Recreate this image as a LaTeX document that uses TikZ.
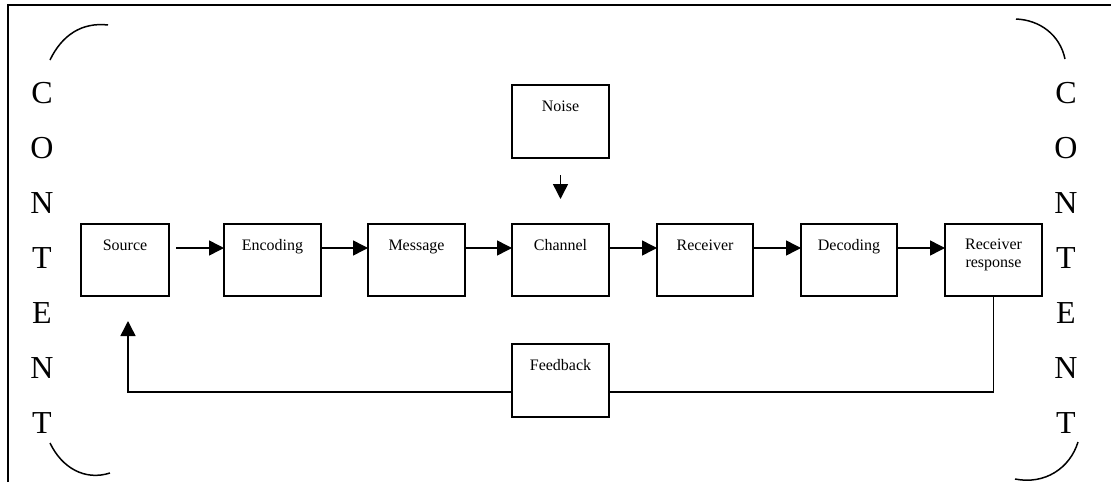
\documentclass[tikz,border=0pt]{standalone}
\usepackage{fontspec}
\setmainfont{Liberation Serif}
\usetikzlibrary{arrows.meta}
\begin{document}
\begin{tikzpicture}[x=1pt,y=-1pt,
  blk/.style={draw,line width=1.8pt,rectangle,inner sep=0pt,outer sep=0pt,
              minimum width=97pt,minimum height=72pt},
  lbl/.style={anchor=base,inner sep=0pt,font=\fontsize{16}{18}\selectfont,align=center},
  big/.style={inner sep=0pt,font=\fontsize{32}{34}\selectfont},
  link/.style={line width=1.5pt},
  arr/.style={link,-{Triangle[length=15pt,width=15pt]}},
  brace/.style={line width=1.5pt}]
\useasboundingbox (0,0) rectangle (1111,482);

% frame
\draw[line width=2pt] (8,482) -- (8,5) -- (1111,5);

% blocks of the main chain
\node[blk,minimum width=88pt] (src) at (125,260) {};
\node[blk] (enc) at (272.5,260) {};
\node[blk] (msg) at (416.5,260) {};
\node[blk] (chn) at (560.5,260) {};
\node[blk,minimum width=96pt] (rcv) at (705,260) {};
\node[blk,minimum width=96pt] (dec) at (849,260) {};
\node[blk] (rr)  at (993.5,260) {};
\node[blk,minimum height=73pt] (noise) at (560.5,121.5) {};
\node[blk,minimum height=73pt] (fb) at (560.5,380.5) {};

% block captions
\node[lbl] (tsrc) at ([yshift=-26pt]src.north) {Source};
\node[lbl] (tenc) at ([yshift=-26pt]enc.north) {Encoding};
\node[lbl] (tmsg) at ([yshift=-26pt]msg.north) {Message};
\node[lbl] (tchn) at ([yshift=-26pt]chn.north) {Channel};
\node[lbl] (trcv) at ([yshift=-26pt]rcv.north) {Receiver};
\node[lbl] (tdec) at ([yshift=-26pt]dec.north) {Decoding};
\node[lbl] (trr)  at ([yshift=-43pt]rr.north) {Receiver\\[0pt]response};
\node[lbl] (tnoise) at ([yshift=-26pt]noise.north) {Noise};
\node[lbl] (tfb) at ([yshift=-26pt]fb.north) {Feedback};

% forward flow
\draw[arr,shorten <=7pt] ([yshift=12pt]src.east) -- ([yshift=12pt]enc.west);
\draw[arr] ([yshift=12pt]enc.east) -- ([yshift=12pt]msg.west);
\draw[arr] ([yshift=12pt]msg.east) -- ([yshift=12pt]chn.west);
\draw[arr] ([yshift=12pt]chn.east) -- ([yshift=12pt]rcv.west);
\draw[arr] ([yshift=12pt]rcv.east) -- ([yshift=12pt]dec.west);
\draw[arr] ([yshift=12pt]dec.east) -- ([yshift=12pt]rr.west);

% noise entering the channel
\draw[arr,shorten <=17pt,shorten >=25pt] (noise.south) -- (chn.north);

% feedback loop
\coordinate (fbE) at ([yshift=-11.5pt]fb.east);
\coordinate (fbW) at ([yshift=-11.5pt]fb.west);
\coordinate (srcB) at ([xshift=3pt]src.south);
\draw[link] (rr.south) |- (fbE);
\draw[arr,shorten >=25pt] (fbW) -| (srcB);

% CONTENT, down both sides
\foreach \c [count=\i] in {C,O,N,T,E,N,T}{
  \node[big] (cl\i) at (42,{93.5+55*(\i-1)}) {\c};
  \node[big] (cr\i) at (1066,{93.5+55*(\i-1)}) {\c};
}

% corner brackets
\draw[brace] (50,60) .. controls (62,35) and (82,22) .. (108,25);
\draw[brace] (1016,19) .. controls (1040,20) and (1060,35) .. (1065,59);
\draw[brace] (50,443) .. controls (62,468) and (85,481) .. (110,473);
\draw[brace] (1078,442) .. controls (1070,468) and (1045,485) .. (1015,479);
\end{tikzpicture}
\end{document}
